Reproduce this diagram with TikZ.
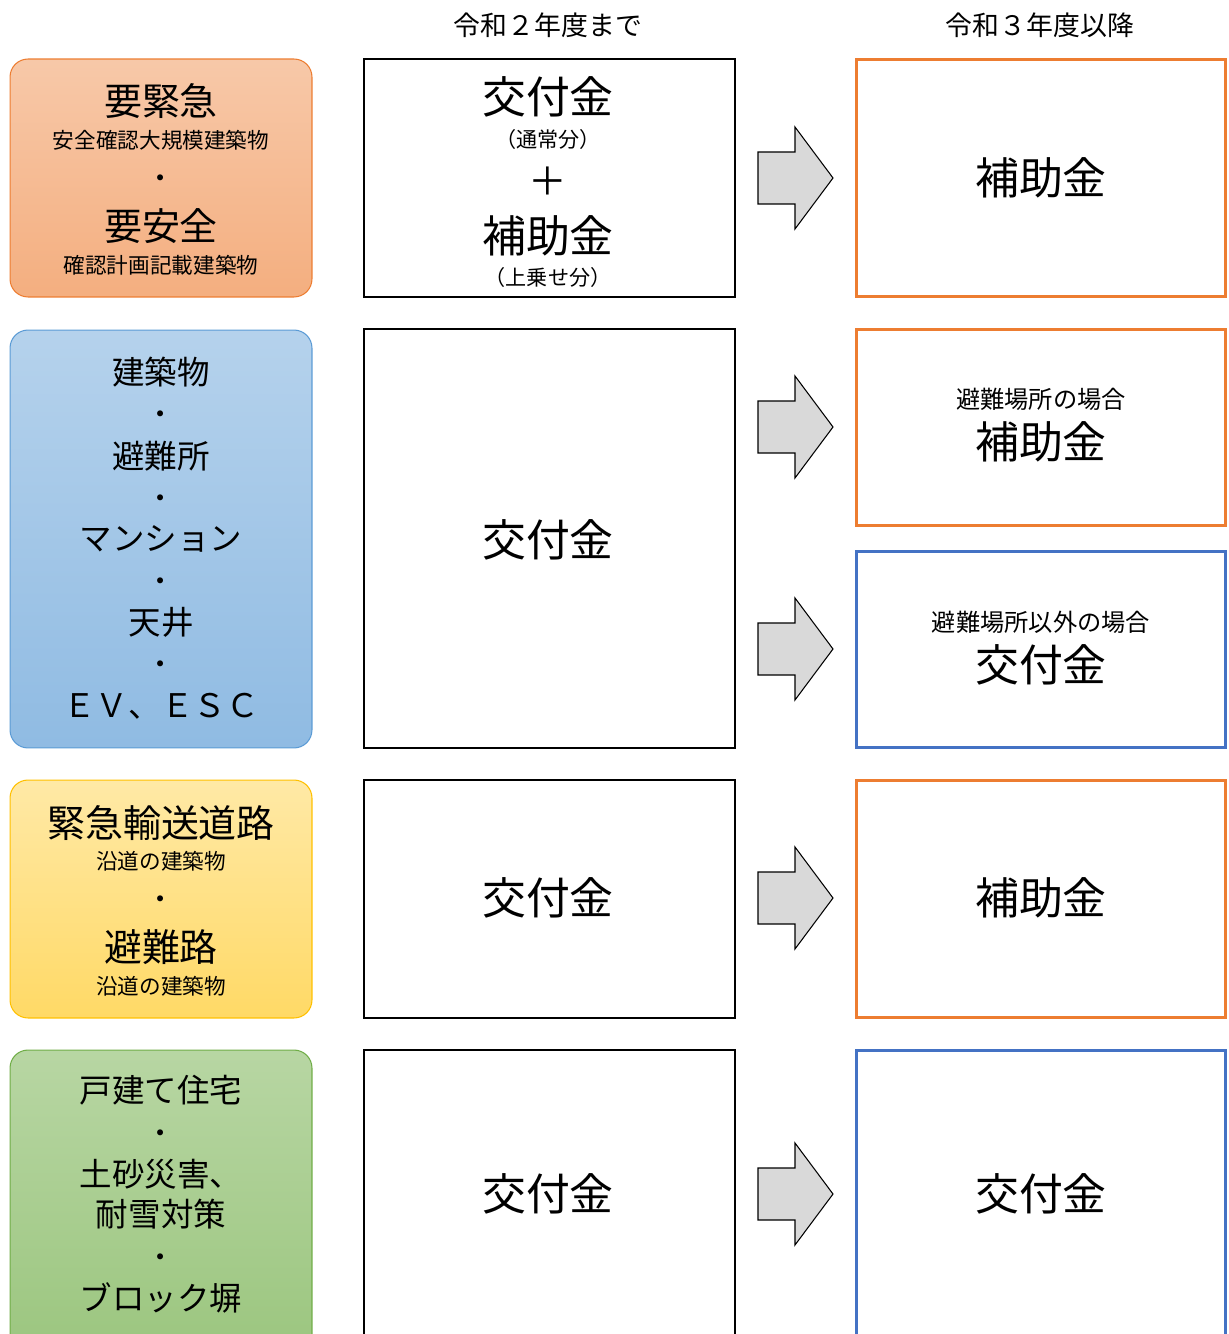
\documentclass[tikz,border=0pt]{standalone}
\usepackage{fontspec}
\setmainfont{Noto Sans CJK JP}
\definecolor{ornline}{HTML}{ED7D31}
\definecolor{bluline}{HTML}{5B9BD5}
\definecolor{newblue}{HTML}{4472C4}
\definecolor{ylwline}{HTML}{FFC000}
\definecolor{grnline}{HTML}{70AD47}
\definecolor{arrgray}{HTML}{D9D9D9}
\begin{document}
\begin{tikzpicture}[x=0.02cm, y=-0.02cm,
  catbox/.style={draw, rounded corners=0.36cm, minimum width=6.04cm, line width=0.6pt, inner sep=0pt},
  oldbox/.style={draw=black, minimum width=7.42cm, line width=0.8pt, inner sep=0pt},
  newbox/.style={draw, minimum width=7.4cm, line width=1.7pt, inner sep=0pt},
  hdtxt/.style={inner sep=0pt, font=\fontsize{15.3}{18}\selectfont},
  bigtxt/.style={inner sep=0pt, font=\fontsize{25}{30}\selectfont},
  cattxt/.style={inner sep=0pt, font=\fontsize{21.6}{26}\selectfont},
  midtxt/.style={inner sep=0pt, font=\fontsize{18.5}{22}\selectfont},
  subtxt/.style={inner sep=0pt, font=\fontsize{12.3}{15}\selectfont},
  notetxt/.style={inner sep=0pt, font=\fontsize{13.8}{16}\selectfont},
  dottxt/.style={inner sep=0pt, yshift=-0.1cm, font=\fontsize{16}{18}\selectfont},
  arrowshape/.style={draw=black, fill=arrgray, line width=0.6pt, line join=miter},
  blockarrow/.style={insert path={
    ++(0,-26) -- ++(37,0) -- ++(0,-25) -- ++(38,51) -- ++(-38,51) -- ++(0,-25) -- ++(-37,0) -- cycle}}]
\clip (0,0) rectangle (1228,1334);

% headers
\node[hdtxt] (hdold) at (548,25) {令和２年度まで};
\node[hdtxt] (hdnew) at (1040,25) {令和３年度以降};

% left column
\node[catbox, draw=ornline, top color=ornline!42!white, bottom color=ornline!62!white,
  minimum height=4.76cm] (cat1) at (161,178) {};
\node[catbox, draw=bluline, top color=bluline!45!white, bottom color=bluline!68!white,
  minimum height=8.36cm] (cat2) at (161,539) {};
\node[catbox, draw=ylwline, top color=ylwline!35!white, bottom color=ylwline!60!white,
  minimum height=4.76cm] (cat3) at (161,899) {};
\node[catbox, draw=grnline, top color=grnline!50!white, bottom color=grnline!70!white,
  minimum height=6.2cm] (cat4) at (161,1205) {};

\node[cattxt] (c1a) at (161,101) {要緊急};
\node[subtxt] (c1b) at (161,140) {安全確認大規模建築物};
\node[dottxt] (c1c) at (161,177) {・};
\node[cattxt] (c1d) at (161,226) {要安全};
\node[subtxt] (c1e) at (161,265) {確認計画記載建築物};

\node[midtxt] (c2a) at (161,372) {建築物};
\node[dottxt] (c2b) at (161,413) {・};
\node[midtxt] (c2c) at (161,456) {避難所};
\node[dottxt] (c2d) at (161,497) {・};
\node[midtxt] (c2e) at (161,539) {マンション};
\node[dottxt] (c2f) at (161,580) {・};
\node[midtxt] (c2g) at (161,622) {天井};
\node[dottxt] (c2h) at (161,663) {・};
\node[midtxt] (c2i) at (161,706) {ＥＶ、ＥＳＣ};

\node[cattxt] (c3a) at (161,823) {緊急輸送道路};
\node[subtxt] (c3b) at (161,861) {沿道の建築物};
\node[dottxt] (c3c) at (161,898) {・};
\node[cattxt] (c3d) at (161,947) {避難路};
\node[subtxt] (c3e) at (161,986) {沿道の建築物};

\node[midtxt] (c4a) at (161,1090) {戸建て住宅};
\node[dottxt] (c4b) at (161,1132) {・};
\node[midtxt] (c4c) at (161,1174) {土砂災害、};
\node[midtxt] (c4d) at (161,1214) {耐雪対策};
\node[dottxt] (c4e) at (161,1256) {・};
\node[midtxt] (c4f) at (161,1298) {ブロック塀};

% middle column
\node[oldbox, minimum height=4.76cm] (old1) at (549.5,178) {};
\node[oldbox, minimum height=8.38cm] (old2) at (549.5,538.5) {};
\node[oldbox, minimum height=4.76cm] (old3) at (549.5,899) {};
\node[oldbox, minimum height=6.2cm] (old4) at (549.5,1205) {};

\node[bigtxt] (o1a) at (548,97) {交付金};
\node[inner sep=0pt, font=\fontsize{12}{14}\selectfont] (o1b) at (548,139) {（通常分）};
\node[inner sep=0pt, font=\fontsize{22}{26}\selectfont] (o1c) at (548,181) {＋};
\node[bigtxt] (o1d) at (548,236) {補助金};
\node[inner sep=0pt, font=\fontsize{12}{14}\selectfont] (o1e) at (548,277) {（上乗せ分）};
\node[bigtxt] (o2) at (548,540) {交付金};
\node[bigtxt] (o3) at (548,898) {交付金};
\node[bigtxt] (o4) at (548,1194) {交付金};

% arrows
\foreach \y [count=\n] in {178,427,649,898,1194} {
  \coordinate (arr\n) at (758,\y);
  \draw[arrowshape] (arr\n) [blockarrow];
}

% right column
\node[newbox, draw=ornline, minimum height=4.76cm] (new1) at (1041,178) {};
\node[newbox, draw=ornline, minimum height=3.94cm] (new2) at (1041,427.5) {};
\node[newbox, draw=newblue, minimum height=3.94cm] (new3) at (1041,649.5) {};
\node[newbox, draw=ornline, minimum height=4.76cm] (new4) at (1041,899) {};
\node[newbox, draw=newblue, minimum height=6.2cm] (new5) at (1041,1205) {};

\node[bigtxt] (n1) at (1041,178) {補助金};
\node[notetxt] (n2a) at (1041,399) {避難場所の場合};
\node[bigtxt] (n2b) at (1041,442) {補助金};
\node[notetxt] (n3a) at (1041,622) {避難場所以外の場合};
\node[bigtxt] (n3b) at (1041,665) {交付金};
\node[bigtxt] (n4) at (1041,898) {補助金};
\node[bigtxt] (n5) at (1041,1194) {交付金};
\end{tikzpicture}
\end{document}
